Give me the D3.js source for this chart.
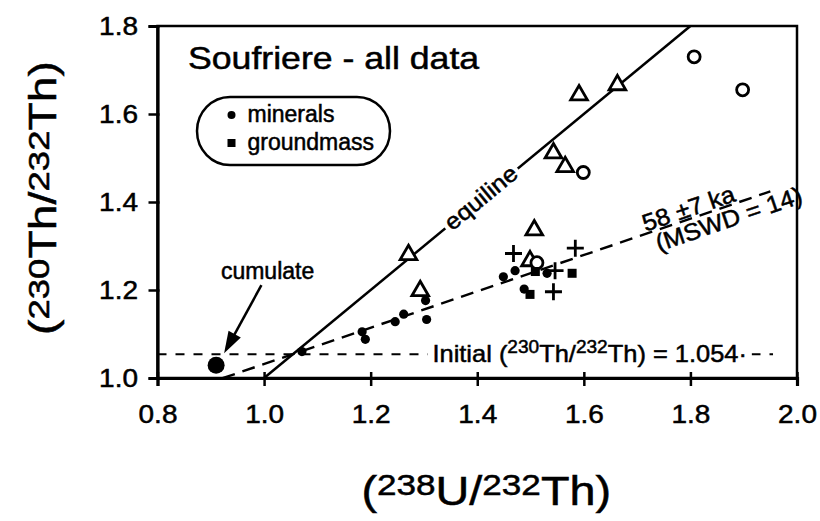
<!DOCTYPE html>
<html>
<head>
<meta charset="utf-8">
<script src="https://cdn.jsdelivr.net/npm/d3@7"></script>
<style>
body { margin: 0; background: #fff; }
text { font-family: "Liberation Sans", Arial, Helvetica, sans-serif; fill: #000; stroke: #000; stroke-width: 0.5px; }
</style>
</head>
<body>
<div id="vis"></div>
<script>
var width = 820;
var height = 521;

var margin = {
    top: 26,
    bottom: 143,
    left: 157.5,
    right: 23
};

// tick values
var xTicks = [0.8, 1.0, 1.2, 1.4, 1.6, 1.8, 2.0];
var yTicks = [1.0, 1.2, 1.4, 1.6, 1.8];

// open triangles
var triangles = [[1.591, 1.643], [1.663, 1.666], [1.543, 1.511], [1.565, 1.480],
    [1.271, 1.280], [1.507, 1.336], [1.499, 1.266], [1.293, 1.198]];
// open circles
var circles = [[1.807, 1.730], [1.898, 1.655], [1.599, 1.467], [1.512, 1.262]];
// crosses
var crosses = [[1.468, 1.283], [1.584, 1.295], [1.543, 1.196], [1.546, 1.244]];
// minerals (filled circles)
var minerals = [[1.071, 1.060], [1.184, 1.105], [1.190, 1.088], [1.246, 1.128],
    [1.262, 1.145], [1.303, 1.176], [1.305, 1.133], [1.449, 1.230], [1.471, 1.244],
    [1.488, 1.202], [1.531, 1.238]];
// groundmass (filled squares)
var groundmass = [[1.578, 1.238], [1.499, 1.190], [1.509, 1.242]];
var cumulate = [0.910, 1.029];

// reference lines
var equiline = [[1.0, 1.0], [1.8, 1.8]];
var isoSlope = 0.413;
var initialRatio = 1.054;
var isoX = [0.922, 1.95];
var initialX = [0.8, 1.955];

var svg = d3.select('#vis')
    .append('svg')
    .attr('width', width)
    .attr('height', height)
    .append('g')
    .attr('transform', 'translate(' + margin.left + ',' + margin.top + ')');

width = width - margin.left - margin.right;
height = height - margin.top - margin.bottom;

var x = d3.scaleLinear().domain([0.8, 2.0]).range([0, width]);
var y = d3.scaleLinear().domain([1.0, 1.8]).range([height, 0]);

function addText(parent, px, py, size, k, anchor, rot) {
    var g = parent.append('g')
        .attr('transform', 'translate(' + px + ',' + py + ')' + (rot ? ' rotate(' + rot + ')' : ''));
    return g.append('text')
        .attr('font-size', size)
        .attr('text-anchor', anchor || 'start')
        .attr('transform', 'scale(' + k + ',1)');
}

function richText(t, parts, supSize, shift) {
    var up = false;
    parts.forEach(function(p) {
        var ts = t.append('tspan').text(p[0]);
        if (p[1]) {
            ts.attr('font-size', supSize);
            if (!up) { ts.attr('dy', -shift); up = true; }
        } else if (up) {
            ts.attr('dy', shift);
            up = false;
        }
    });
}

// frame
svg.append('rect')
    .attr('width', width)
    .attr('height', height)
    .attr('fill', 'none')
    .attr('stroke', '#000')
    .attr('stroke-width', 2.5);

// axes
var xAxis = d3.axisBottom(x).tickValues(xTicks).tickFormat(d3.format('.1f')).tickSizeOuter(0).tickSize(8);
var yAxis = d3.axisLeft(y).tickValues(yTicks).tickFormat(d3.format('.1f')).tickSizeOuter(0).tickSize(9);

var gx = svg.append('g')
    .attr('class', 'x axis')
    .attr('transform', 'translate(0,' + height + ')')
    .call(xAxis);
var gy = svg.append('g')
    .attr('class', 'y axis')
    .call(yAxis);

[gx, gy].forEach(function(g) {
    g.select('.domain').attr('stroke-width', 3.2);
    g.selectAll('.tick line').attr('stroke-width', 2.5);
    g.selectAll('.tick text')
        .attr('font-size', 25)
        .attr('fill', '#000')
        .style('font-family', '"Liberation Sans", Arial, sans-serif');
});
gx.selectAll('.tick line').attr('y1', -6);
gx.selectAll('.tick text').attr('y', 45).attr('dy', null).attr('transform', 'scale(1.12,1)');
gy.selectAll('.tick line').attr('x2', -9).attr('x1', 2);
gy.selectAll('.tick text').attr('x', -19.5 / 1.12).attr('transform', 'scale(1.12,1)');

// initial ratio line
svg.append('line')
    .attr('x1', x(initialX[0])).attr('x2', x(initialX[1]))
    .attr('y1', y(initialRatio)).attr('y2', y(initialRatio))
    .attr('stroke', '#000').attr('stroke-width', 2).attr('stroke-dasharray', '9,9');

// isochron
var isoLine = isoX.map(function(v) { return [v, isoSlope * v + (1 - isoSlope) * initialRatio]; });
svg.append('line')
    .attr('x1', x(isoLine[0][0])).attr('y1', y(isoLine[0][1]))
    .attr('x2', x(isoLine[1][0])).attr('y2', y(isoLine[1][1]))
    .attr('stroke', '#000').attr('stroke-width', 2.4).attr('stroke-dasharray', '13,8');

// equiline
svg.append('line')
    .attr('x1', x(equiline[0][0])).attr('y1', y(equiline[0][1]))
    .attr('x2', x(equiline[1][0])).attr('y2', y(equiline[1][1]))
    .attr('stroke', '#000').attr('stroke-width', 2.5);

var eqAngle = Math.atan2(y(1.8) - y(1.0), x(1.8) - x(1.0)) * 180 / Math.PI;
var isoAngle = Math.atan2(y(isoLine[1][1]) - y(isoLine[0][1]), x(isoLine[1][0]) - x(isoLine[0][0])) * 180 / Math.PI;

// equiline label with gap
var eqG = svg.append('g')
    .attr('transform', 'translate(' + x(1.408) + ',' + y(1.408) + ') rotate(' + eqAngle + ')');
eqG.append('rect').attr('x', -47).attr('y', -8).attr('width', 94).attr('height', 16).attr('fill', '#fff');
eqG.append('text')
    .attr('font-size', 23)
    .attr('text-anchor', 'middle')
    .attr('dy', '0.3em')
    .attr('transform', 'scale(1.1,1)')
    .text('equiline');

// initial label
var iniG = svg.append('g')
    .attr('transform', 'translate(' + x(1.611) + ',' + y(initialRatio) + ')');
iniG.append('rect').attr('x', -162).attr('y', -6).attr('width', 324).attr('height', 12).attr('fill', '#fff');
var iniT = iniG.append('text')
    .attr('font-size', 24)
    .attr('text-anchor', 'middle')
    .attr('y', 8)
    .attr('transform', 'scale(1.06,1)');
richText(iniT, [['Initial (', 0], ['230', 1], ['Th/', 0], ['232', 1], ['Th) = 1.054\u00b7', 0]], 18, 9);

// age label
var ageG = svg.append('g')
    .attr('transform', 'translate(' + x(1.717) + ',' + y(isoSlope * 1.717 + (1 - isoSlope) * initialRatio) + ') rotate(' + isoAngle + ')');
ageG.append('text').attr('font-size', 24).attr('y', -2).attr('transform', 'scale(1.05,1)').text('58 \u00b17 ka');
ageG.append('text').attr('font-size', 24).attr('x', 6).attr('y', 21).attr('transform', 'scale(1.05,1)').text('(MSWD = 14)');

// cumulate arrow
var arrowTail = [0.995, 1.211];
var arrowTip = [0.925, 1.056];
var ax0 = x(arrowTail[0]), ay0 = y(arrowTail[1]), ax1 = x(arrowTip[0]), ay1 = y(arrowTip[1]);
var alen = Math.sqrt((ax1 - ax0) * (ax1 - ax0) + (ay1 - ay0) * (ay1 - ay0));
var ux = (ax1 - ax0) / alen, uy = (ay1 - ay0) / alen;
svg.append('line')
    .attr('x1', ax0).attr('y1', ay0)
    .attr('x2', ax1 - ux * 18).attr('y2', ay1 - uy * 18)
    .attr('stroke', '#000').attr('stroke-width', 2.5);
svg.append('path')
    .attr('d', 'M' + ax1 + ',' + ay1 +
        'L' + (ax1 - ux * 22 - uy * 7) + ',' + (ay1 - uy * 22 + ux * 7) +
        'L' + (ax1 - ux * 22 + uy * 7) + ',' + (ay1 - uy * 22 - ux * 7) + 'Z')
    .attr('fill', '#000');
addText(svg, x(0.919), y(1.224), 23, 1.0, 'start').text('cumulate');

// title
addText(svg, 30.5, 42.5, 31, 1.15, 'start').text('Soufriere - all data');

// legend
var legendItems = ['minerals', 'groundmass'];
svg.append('rect')
    .attr('x', 39.5).attr('y', 71).attr('width', 193).attr('height', 68)
    .attr('rx', 33).attr('ry', 34)
    .attr('fill', 'none').attr('stroke', '#000').attr('stroke-width', 2.5);
legendItems.forEach(function(name, i) {
    var cy = 89 + i * 28;
    if (i === 0) {
        svg.append('circle').attr('cx', 74).attr('cy', cy).attr('r', 4);
    } else {
        svg.append('rect').attr('x', 70).attr('y', cy - 4).attr('width', 8).attr('height', 8);
    }
    addText(svg, 90, cy + 7, 23, 1.0, 'start').text(name);
});

// markers
svg.selectAll('.tri')
    .data(triangles)
    .enter()
    .append('path')
    .attr('class', 'tri')
    .attr('d', d3.symbol(d3.symbolTriangle, 120))
    .attr('transform', function(d) { return 'translate(' + x(d[0]) + ',' + y(d[1]) + ')'; })
    .attr('fill', '#fff').attr('stroke', '#000').attr('stroke-width', 2.8);

svg.selectAll('.ocirc')
    .data(circles)
    .enter()
    .append('circle')
    .attr('class', 'ocirc')
    .attr('cx', function(d) { return x(d[0]); })
    .attr('cy', function(d) { return y(d[1]); })
    .attr('r', 6)
    .attr('fill', '#fff').attr('stroke', '#000').attr('stroke-width', 2.8);

svg.selectAll('.cross')
    .data(crosses)
    .enter()
    .append('path')
    .attr('class', 'cross')
    .attr('d', 'M-8.5,0H8.5M0,-8.5V8.5')
    .attr('transform', function(d) { return 'translate(' + x(d[0]) + ',' + y(d[1]) + ')'; })
    .attr('stroke', '#000').attr('stroke-width', 2.8);

svg.selectAll('.mineral')
    .data(minerals)
    .enter()
    .append('circle')
    .attr('class', 'mineral')
    .attr('cx', function(d) { return x(d[0]); })
    .attr('cy', function(d) { return y(d[1]); })
    .attr('r', 4.6)
    .attr('fill', '#000');

svg.selectAll('.gm')
    .data(groundmass)
    .enter()
    .append('rect')
    .attr('class', 'gm')
    .attr('x', function(d) { return x(d[0]) - 4.5; })
    .attr('y', function(d) { return y(d[1]) - 4.5; })
    .attr('width', 9).attr('height', 9)
    .attr('fill', '#000');

svg.append('circle')
    .attr('cx', x(cumulate[0]))
    .attr('cy', y(cumulate[1]))
    .attr('r', 8.5)
    .attr('fill', '#000');

// axis titles
var xl = addText(svg, width / 2 + 9, height + 127, 40, 1.17, 'middle');
richText(xl, [['(', 0], ['238', 1], ['U/', 0], ['232', 1], ['Th)', 0]], 30, 10);

var yl = addText(svg, 56 - margin.left, 172, 38, 1.22, 'middle', -90);
richText(yl, [['(', 0], ['230', 1], ['Th/', 0], ['232', 1], ['Th)', 0]], 30, 7);
</script>
</body>
</html>
